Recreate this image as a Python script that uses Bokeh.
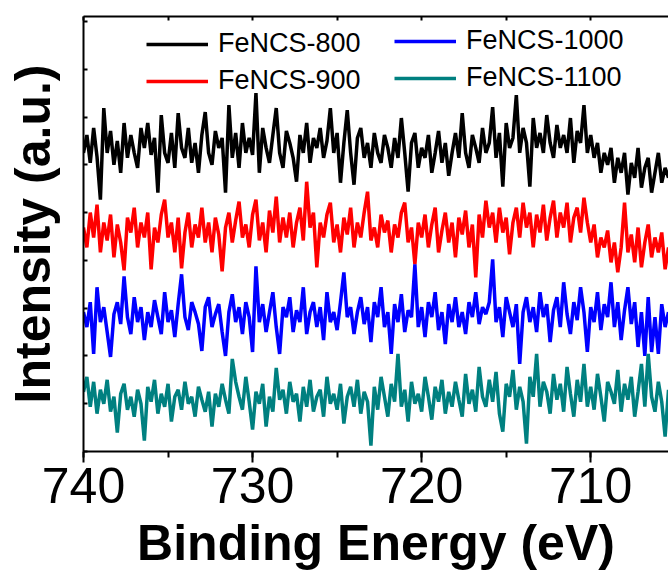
import numpy as np
from bokeh.plotting import figure
from bokeh.models import (Range1d, LinearAxis, SingleIntervalTicker, Legend, LegendItem,
                          ColumnDataSource)
from bokeh.embed import file_html
from bokeh.resources import INLINE

# ---- data (intensity in arbitrary units) ----
fencs_800 = [300, 318, 290, 325, 296, 253, 345, 300, 322, 288,
             312, 280, 330, 295, 318, 300, 285, 325, 305, 330,
             298, 315, 260, 338, 300, 290, 320, 285, 340, 305,
             295, 325, 290, 310, 280, 318, 341, 300, 288, 322,
             305, 315, 260, 348, 295, 320, 285, 330, 300, 315,
             298, 360, 280, 325, 305, 290, 318, 345, 300, 285,
             322, 310, 295, 271, 318, 300, 330, 290, 315, 305,
             325, 295, 312, 345, 300, 320, 270, 310, 343, 300,
             268, 315, 325, 295, 310, 285, 320, 300, 290, 318,
             305, 285, 315, 295, 335, 300, 261, 310, 320, 285,
             305, 295, 318, 280, 300, 322, 290, 310, 277, 300,
             320, 295, 340, 300, 285, 318, 305, 290, 325, 300,
             310, 346, 295, 320, 266, 330, 305, 315, 358, 300,
             325, 310, 266, 335, 305, 320, 300, 338, 310, 295,
             328, 305, 318, 300, 335, 290, 322, 310, 348, 300,
             318, 295, 310, 280, 300, 288, 305, 270, 295, 280,
             300, 258, 290, 275, 305, 265, 285, 295, 260, 280,
             300, 270, 285, 275]
fencs_900 = [225, 205, 240, 215, 248, 200, 230, 212, 238, 195,
             228, 210, 182, 235, 220, 245, 205, 230, 215, 240,
             183, 225, 210, 238, 253, 215, 230, 200, 235, 184,
             220, 240, 205, 228, 215, 245, 210, 230, 200, 235,
             218, 181, 225, 240, 210, 232, 251, 215, 228, 205,
             238, 253, 212, 230, 200, 242, 220, 256, 210, 235,
             215, 240, 205, 230, 245, 212, 271, 225, 240, 185,
             230, 215, 238, 250, 210, 228, 200, 235, 218, 245,
             205, 230, 215, 240, 261, 212, 225, 205, 238, 220,
             232, 200, 228, 215, 240, 250, 210, 225, 188, 230,
             215, 238, 205, 228, 245, 200, 222, 240, 210, 230,
             195, 235, 218, 242, 205, 228, 175, 238, 215, 252,
             225, 240, 210, 245, 220, 235, 198, 230, 245, 215,
             250, 225, 240, 205, 238, 220, 248, 212, 235, 252,
             215, 240, 225, 250, 210, 235, 245, 220, 255, 230,
             210, 228, 195, 215, 205, 222, 190, 210, 180, 205,
             250, 200, 218, 190, 225, 185, 210, 228, 195, 215,
             200, 220, 183, 205]
fencs_1000 = [140, 125, 150, 98, 165, 130, 145, 120, 95, 138,
              150, 128, 176, 135, 118, 155, 130, 145, 112, 140,
              125, 152, 135, 118, 160, 130, 142, 115, 148, 178,
              135, 122, 150, 140, 128, 101, 145, 155, 125, 138,
              148, 120, 96, 140, 158, 130, 145, 118, 150, 135,
              100, 186, 130, 148, 120, 140, 160, 125, 98, 145,
              135, 155, 120, 142, 130, 165, 118, 140, 150, 125,
              145, 112, 160, 130, 140, 122, 150, 180, 135, 145,
              118, 140, 155, 128, 145, 110, 150, 135, 165, 125,
              140, 98, 148, 130, 158, 120, 142, 135, 188, 125,
              145, 115, 150, 135, 160, 122, 140, 108, 148, 130,
              155, 125, 140, 118, 150, 135, 160, 128, 145, 138,
              150, 193, 130, 145, 115, 155, 140, 125, 148, 88,
              140, 155, 130, 145, 120, 160, 135, 148, 110, 142,
              155, 125, 170, 138, 118, 150, 132, 165, 140, 100,
              145, 130, 160, 122, 148, 135, 170, 125, 150, 112,
              142, 165, 128, 150, 105, 140, 96, 155, 100, 135,
              98, 148, 125, 140]
fencs_1100 = [60, 75, 45, 70, 38, 62, 48, 72, 40, 55,
              19, 58, 68, 42, 55, 35, 62, 48, 11, 65,
              50, 72, 38, 58, 45, 68, 30, 55, 62, 42,
              70, 48, 55, 35, 65, 52, 40, 60, 25, 58,
              45, 68, 52, 38, 93, 70, 55, 42, 75, 50,
              22, 60, 48, 68, 25, 55, 40, 84, 52, 62,
              38, 70, 50, 58, 30, 65, 45, 72, 40, 55,
              62, 35, 75, 48, 58, 42, 68, 28, 55, 65,
              45, 72, 38, 60, 50, 6, 65, 42, 75, 55,
              35, 68, 50, 98, 45, 62, 30, 70, 48, 58,
              40, 75, 55, 32, 65, 50, 72, 38, 60, 45,
              70, 52, 35, 78, 48, 62, 40, 85, 55, 45,
              72, 50, 80, 38, 20, 68, 55, 82, 42, 65,
              50, 8, 75, 55, 98, 45, 70, 60, 38, 78,
              52, 68, 40, 85, 58, 35, 72, 50, 88, 45,
              65, 42, 78, 55, 30, 70, 60, 48, 82, 40,
              68, 52, 75, 35, 60, 88, 45, 98, 55, 40,
              70, 50, 15, 62]
series_names = ["FeNCS-800", "FeNCS-900", "FeNCS-1000", "FeNCS-1100"]
series_colors = ["#000000", "#ff0000", "#0000ff", "#008080"]
x_title = "Binding Energy (eV)"
y_title = "Intensity (a.u.)"
energy_start = 740.0
energy_step = 0.2
binding_energy = np.round(energy_start - energy_step * np.arange(len(fencs_800)), 2)

FONT = "Liberation Sans"

p = figure(width=668, height=573, output_backend="svg", toolbar_location=None,
           x_range=Range1d(740, 705.4), y_range=Range1d(0, 437),
           min_border_left=83, min_border_right=0, min_border_top=16,
           min_border_bottom=120, x_axis_location="below")
p.outline_line_color = None
p.xgrid.visible = False
p.ygrid.visible = False
p.background_fill_color = "white"
p.border_fill_color = "white"

renderers = []
for name, col, vals in zip(series_names, series_colors,
                           [fencs_800, fencs_900, fencs_1000, fencs_1100]):
    src = ColumnDataSource(dict(x=binding_energy, y=vals))
    r = p.line("x", "y", source=src, line_color=col, line_width=3.5)
    renderers.append(r)

# bottom axis
xa = p.xaxis[0]
xa.ticker = SingleIntervalTicker(interval=10, num_minor_ticks=2)
xa.axis_line_width = 2
xa.major_tick_line_width = 2
xa.minor_tick_line_width = 2
xa.major_tick_in = 0
xa.major_tick_out = 11
xa.minor_tick_in = 0
xa.minor_tick_out = 6
xa.major_label_text_font = FONT
xa.major_label_text_font_size = "50px"
xa.major_label_text_color = "black"
xa.major_label_text_line_height = 1.0
xa.major_label_standoff = 5
xa.axis_label = x_title
xa.axis_label_text_font = FONT
xa.axis_label_text_font_style = "bold"
xa.axis_label_text_font_size = "50px"
xa.axis_label_text_color = "black"
xa.axis_label_text_line_height = 1.0
xa.axis_label_standoff = 9

# left axis (no tick labels)
ya = p.yaxis[0]
ya.ticker = SingleIntervalTicker(interval=48, num_minor_ticks=0)
ya.axis_line_width = 2
ya.major_tick_line_width = 2
ya.major_tick_in = 4
ya.major_tick_out = 0
ya.minor_tick_in = 0
ya.minor_tick_out = 0
ya.major_label_text_color = None
ya.major_label_text_font_size = "0px"
ya.major_label_standoff = 0
ya.axis_label = y_title
ya.axis_label_text_font = FONT
ya.axis_label_text_font_style = "bold"
ya.axis_label_text_font_size = "50px"
ya.axis_label_text_color = "black"
ya.axis_label_text_line_height = 1.0
ya.axis_label_standoff = 23

# top axis (frame line)
ta = LinearAxis(ticker=SingleIntervalTicker(interval=5, num_minor_ticks=0))
ta.axis_line_width = 2
ta.major_tick_line_width = 2
ta.major_tick_in = 4
ta.major_tick_out = 0
ta.minor_tick_in = 0
ta.minor_tick_out = 0
ta.major_label_text_color = None
ta.major_label_text_font_size = "0px"
ta.major_label_standoff = 0
p.add_layout(ta, "above")

def make_legend(items, loc):
    lg = Legend(items=items, location=loc)
    lg.label_text_font = FONT
    lg.label_text_font_size = "27px"
    lg.label_text_color = "black"
    lg.glyph_width = 62
    lg.glyph_height = 30
    lg.label_height = 30
    lg.label_standoff = 10
    lg.spacing = 6
    lg.padding = 0
    lg.margin = 0
    lg.border_line_color = None
    lg.background_fill_alpha = 0
    return lg

leg1 = make_legend([LegendItem(label=series_names[0], renderers=[renderers[0]]),
                    LegendItem(label=series_names[1], renderers=[renderers[1]])], (63, 355))
leg2 = make_legend([LegendItem(label=series_names[2], renderers=[renderers[2]]),
                    LegendItem(label=series_names[3], renderers=[renderers[3]])], (311, 358))
p.add_layout(leg1)
p.add_layout(leg2)

open("out.html", "w").write(file_html(p, INLINE))
